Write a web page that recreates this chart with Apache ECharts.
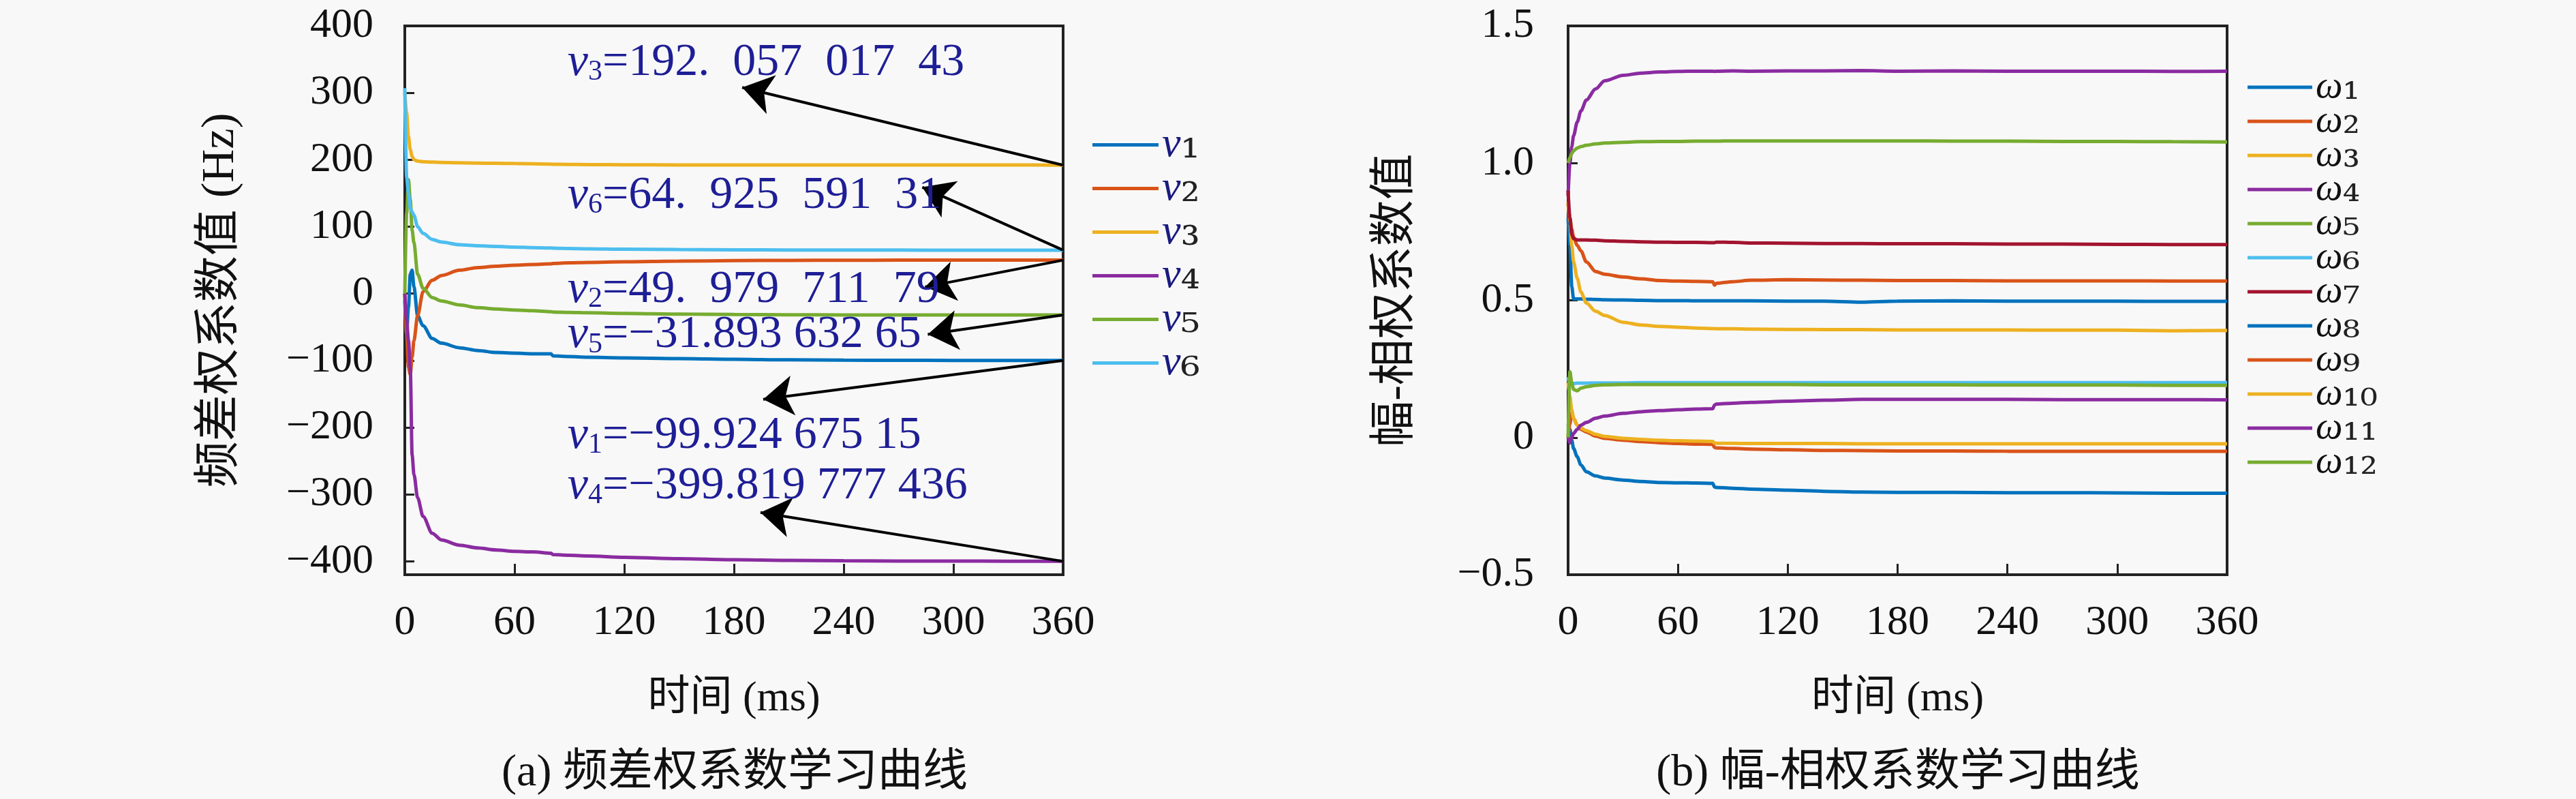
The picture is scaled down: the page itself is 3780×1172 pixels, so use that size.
<!DOCTYPE html>
<html>
<head>
<meta charset="utf-8">
<script src="https://cdn.jsdelivr.net/npm/echarts@6/dist/echarts.min.js"></script>
<style>
  html, body { margin: 0; padding: 0; background: #f8f8f8; }
  #main { width: 3780px; height: 1172px; }
</style>
</head>
<body>
<div id="main"></div>
<script>
// 左图：频差权系数 v1..v6
var timeA = [0, 1, 2, 3, 4, 5, 7, 10, 15, 20, 30, 40, 50, 60, 70, 80, 81, 90, 100, 120, 150, 180, 210, 240, 270, 300, 330, 360];
var v1 = [-10, -60, -20, 29, 35, 10, -33, -48, -67, -74, -81, -85, -88, -89, -90, -90, -93, -94, -95, -96, -97, -98, -99, -99.5, -99.7, -99.8, -99.9, -99.92];
var v2 = [0, -60, -110, -121, -95, -70, -33, 3, 20, 27, 35, 39, 41, 42.5, 43.5, 44.5, 45, 46, 46.5, 47.5, 48.5, 49.3, 49.7, 49.9, 50, 50, 50, 49.98];
var v3 = [300, 270, 235, 215, 205, 200, 198, 197, 196.5, 196, 195.5, 195, 194.7, 194.5, 194, 193.5, 193.3, 193, 192.8, 192.5, 192.3, 192.2, 192.1, 192.1, 192.1, 192.1, 192.1, 192.06];
var v4 = [0, -40, -70, -111, -241, -270, -305, -333, -358, -368, -376, -380, -383, -385, -386, -388, -390, -391, -392, -394, -396, -397.5, -398.5, -399.2, -399.5, -399.7, -399.8, -399.82];
var v5 = [0, 120, 170, 140, 95, 76, 29, 8, -6, -11, -17, -21, -23, -24.5, -25.6, -27, -27.5, -28, -28.5, -29.5, -30.5, -31.2, -31.6, -31.8, -31.9, -31.9, -31.9, -31.89];
var v6 = [307, 174, 150, 128, 122, 117, 100, 90, 81, 77, 73, 71.5, 70.5, 69.5, 68.8, 68.2, 68, 67.5, 67, 66.4, 65.8, 65.4, 65.2, 65, 65, 64.95, 64.93, 64.93];

// 右图：幅-相权系数 ω1..ω12
var timeB = [0, 1, 2, 3, 5, 7, 10, 15, 20, 30, 40, 50, 60, 70, 79, 80, 81, 90, 100, 120, 140, 160, 180, 210, 240, 270, 300, 330, 360];
var w1 = [0.80, 0.70, 0.55, 0.505, 0.505, 0.505, 0.504, 0.503, 0.502, 0.501, 0.5, 0.499, 0.499, 0.498, 0.498, 0.498, 0.498, 0.498, 0.498, 0.497, 0.497, 0.493, 0.497, 0.498, 0.497, 0.497, 0.497, 0.496, 0.496];
var w2 = [0.85, 0.80, 0.76, 0.73, 0.70, 0.68, 0.64, 0.605, 0.595, 0.585, 0.578, 0.572, 0.570, 0.569, 0.568, 0.555, 0.562, 0.568, 0.573, 0.575, 0.574, 0.573, 0.572, 0.572, 0.571, 0.571, 0.571, 0.570, 0.570];
var w3 = [0.86, 0.78, 0.70, 0.64, 0.58, 0.53, 0.49, 0.46, 0.445, 0.42, 0.41, 0.405, 0.402, 0.399, 0.397, 0.397, 0.396, 0.396, 0.395, 0.394, 0.393, 0.393, 0.392, 0.392, 0.392, 0.391, 0.391, 0.389, 0.390];
var w4 = [0.88, 1.00, 1.06, 1.10, 1.15, 1.19, 1.23, 1.27, 1.30, 1.32, 1.328, 1.332, 1.334, 1.335, 1.335, 1.334, 1.335, 1.336, 1.335, 1.336, 1.336, 1.337, 1.335, 1.336, 1.335, 1.335, 1.335, 1.334, 1.335];
var w5 = [1.00, 1.02, 1.035, 1.045, 1.055, 1.06, 1.065, 1.07, 1.073, 1.076, 1.078, 1.079, 1.079, 1.08, 1.08, 1.08, 1.08, 1.081, 1.081, 1.081, 1.081, 1.081, 1.081, 1.08, 1.08, 1.079, 1.079, 1.078, 1.077];
var w6 = [0.22, 0.19, 0.195, 0.197, 0.198, 0.198, 0.198, 0.199, 0.199, 0.199, 0.2, 0.2, 0.2, 0.2, 0.2, 0.2, 0.2, 0.2, 0.2, 0.2, 0.2, 0.2, 0.2, 0.2, 0.2, 0.2, 0.2, 0.2, 0.2];
var w7 = [0.90, 0.80, 0.74, 0.725, 0.72, 0.72, 0.72, 0.719, 0.717, 0.715, 0.713, 0.712, 0.711, 0.711, 0.71, 0.71, 0.712, 0.711, 0.709, 0.708, 0.707, 0.707, 0.706, 0.706, 0.705, 0.705, 0.704, 0.703, 0.703];
var w8 = [0.05, 0.03, -0.01, -0.04, -0.07, -0.10, -0.125, -0.14, -0.148, -0.155, -0.16, -0.164, -0.165, -0.166, -0.167, -0.18, -0.182, -0.185, -0.188, -0.192, -0.196, -0.199, -0.2, -0.2, -0.201, -0.201, -0.202, -0.203, -0.203];
var w9 = [0.0, 0.05, 0.09, 0.07, 0.045, 0.03, 0.02, 0.005, -0.003, -0.01, -0.015, -0.019, -0.022, -0.024, -0.025, -0.036, -0.038, -0.04, -0.042, -0.045, -0.047, -0.048, -0.049, -0.049, -0.05, -0.05, -0.05, -0.05, -0.05];
var w10 = [0.2, 0.15, 0.1, 0.07, 0.045, 0.035, 0.025, 0.012, 0.004, -0.003, -0.007, -0.01, -0.012, -0.013, -0.014, -0.02, -0.021, -0.021, -0.022, -0.022, -0.022, -0.023, -0.023, -0.023, -0.023, -0.023, -0.023, -0.023, -0.023];
var w11 = [0.0, -0.02, 0.0, 0.015, 0.03, 0.045, 0.055, 0.07, 0.078, 0.088, 0.094, 0.098, 0.101, 0.104, 0.105, 0.118, 0.122, 0.125, 0.128, 0.132, 0.136, 0.139, 0.139, 0.139, 0.139, 0.138, 0.138, 0.138, 0.137];
var w12 = [0.0, 0.24, 0.2, 0.175, 0.17, 0.18, 0.185, 0.19, 0.192, 0.193, 0.193, 0.193, 0.193, 0.193, 0.193, 0.193, 0.193, 0.193, 0.193, 0.193, 0.192, 0.192, 0.192, 0.192, 0.191, 0.191, 0.191, 0.19, 0.19];

var yTicksA = [-400, -300, -200, -100, 0, 100, 200, 300, 400];

// 标注：收敛值文字 + 箭头（起点在曲线末端，终点指向文字）
var noteText = ['192.\u2002057\u2002017\u200243', '64.\u2002925\u2002591\u200231', '49.\u2002979\u2002711\u200279',
                '−31.893 632 65', '−99.924 675 15', '−399.819 777 436'];
var noteIdx = [3, 6, 2, 5, 1, 4];
var noteAt = [[89, 345], [89, 146], [89, 6], [89, -62], [89, -212], [89, -288]];
var arrowFrom = [[360, 192], [360, 65], [360, 50], [360, -32], [360, -100], [360, -400]];
var arrowTo = [[184.5, 308], [283, 159], [284.5, 10], [286, -61], [196, -158], [194.5, -327]];

var colA = ['#0072BD', '#D95319', '#EDB120', '#8A2BA0', '#77AC30', '#4DBEEE'];
var colB = ['#0072BD', '#D95319', '#EDB120', '#8A2BA0', '#77AC30', '#4DBEEE', '#A2142F',
            '#0072BD', '#D95319', '#EDB120', '#8A2BA0', '#77AC30'];

var SERIF = '"Liberation Serif", "Noto Sans CJK SC", serif';
var NOTE = '#1e1e96';
var SUB = '₀₁₂₃₄₅₆₇₈₉';

function zip(t, v) {
  return t.map(function (x, i) { return [x, v[i]]; });
}
function minus(s) { return String(s).replace('-', '−'); }
function toSub(d) {
  return String(d).split('').map(function (c) { return SUB.charAt(+c); }).join('');
}

var chart = echarts.init(document.getElementById('main'));

var seriesA = [v1, v2, v3, v4, v5, v6];
var seriesB = [w1, w2, w3, w4, w5, w6, w7, w8, w9, w10, w11, w12];

var series = [];
seriesA.forEach(function (vals, i) {
  var k = noteIdx.indexOf(i + 1);
  var s = {
    name: 'v' + (i + 1),
    type: 'line',
    xAxisIndex: 0, yAxisIndex: 0,
    data: zip(timeA, vals),
    showSymbol: false, symbol: 'none',
    smooth: 0.3, smoothMonotone: 'x',
    color: colA[i],
    lineStyle: { width: 5 }
  };
  if (k >= 0) {
    s.markLine = {
      silent: true, animation: false,
      symbol: ['none', 'arrow'], symbolSize: 44,
      lineStyle: { color: '#000', width: 4, type: 'solid' },
      label: { show: false },
      data: [[{ coord: arrowFrom[k] }, { coord: arrowTo[k] }]]
    };
    s.markPoint = {
      silent: true, animation: false,
      symbol: 'circle', symbolSize: 0,
      data: [{ coord: noteAt[k] }],
      label: {
        show: true, position: 'right', distance: 0,
        formatter: '{i|v}{s|' + (i + 1) + '}{n|=' + noteText[k] + '}',
        rich: {
          i: { fontFamily: SERIF, fontStyle: 'italic', fontSize: 68, color: NOTE, lineHeight: 70 },
          s: { fontFamily: SERIF, fontSize: 42, color: NOTE, lineHeight: 12, verticalAlign: 'bottom' },
          n: { fontFamily: SERIF, fontSize: 68, color: NOTE, lineHeight: 70 }
        }
      }
    };
  }
  series.push(s);
});
seriesB.forEach(function (vals, i) {
  series.push({
    name: 'ω' + (i + 1),
    type: 'line',
    xAxisIndex: 1, yAxisIndex: 1,
    data: zip(timeB, vals),
    showSymbol: false, symbol: 'none',
    smooth: 0.3, smoothMonotone: 'x',
    color: colB[i],
    lineStyle: { width: 5 }
  });
});

// 图例：符号斜体 + 下标数字
function legendFmt(name) {
  return '{i|' + name.charAt(0) + '}{s|' + toSub(name.slice(1)) + '}';
}
function legendText(mainColor, size) {
  return {
    rich: {
      i: { fontFamily: SERIF, fontStyle: 'italic', fontSize: size, color: mainColor },
      s: { fontFamily: '"DejaVu Serif", serif', fontSize: Math.round(size * 1.15), color: '#222' }
    }
  };
}

var axisText = { fontFamily: SERIF, fontSize: 62, color: '#111' };
var nameText = { fontFamily: SERIF, fontSize: 68, color: '#111' };

var option = {
  backgroundColor: '#f8f8f8',
  animation: false,
  grid: [
    { left: 594, top: 38, width: 966, height: 805, show: true, borderColor: '#222', borderWidth: 4, backgroundColor: 'transparent' },
    { left: 2301, top: 38, width: 967, height: 805, show: true, borderColor: '#222', borderWidth: 4, backgroundColor: 'transparent' }
  ],
  xAxis: [0, 1].map(function (g) {
    return {
      type: 'value', gridIndex: g, min: 0, max: 360, interval: 60,
      name: '时间 (ms)', nameLocation: 'middle', nameGap: 152,
      nameTextStyle: { fontFamily: SERIF, fontSize: 62, color: '#111' },
      axisLine: { show: true, onZero: false, lineStyle: { color: '#222', width: 4 } },
      axisTick: { show: true, inside: true, length: 16, lineStyle: { color: '#222', width: 3 } },
      axisLabel: Object.assign({ margin: 40 }, axisText),
      splitLine: { show: false }
    };
  }),
  yAxis: [
    {
      type: 'value', gridIndex: 0, min: -420, max: 400,
      name: '频差权系数值 (Hz)', nameLocation: 'middle', nameGap: 236,
      nameTextStyle: nameText,
      axisLine: { show: true, onZero: false, lineStyle: { color: '#222', width: 4 } },
      axisTick: { show: true, inside: true, length: 14, customValues: yTicksA, lineStyle: { color: '#222', width: 3 } },
      axisLabel: Object.assign({ margin: 46, customValues: yTicksA, formatter: function (v) { return minus(v); } }, axisText),
      splitLine: { show: false }
    },
    {
      type: 'value', gridIndex: 1, min: -0.5, max: 1.5, interval: 0.5,
      name: '幅-相权系数值', nameLocation: 'middle', nameGap: 218,
      nameTextStyle: nameText,
      axisLine: { show: true, onZero: false, lineStyle: { color: '#222', width: 4 } },
      axisTick: { show: true, inside: true, length: 14, lineStyle: { color: '#222', width: 3 } },
      axisLabel: Object.assign({ margin: 50, formatter: function (v) { return v === 0 ? '0' : minus(v.toFixed(1)); } }, axisText),
      splitLine: { show: false }
    }
  ],
  legend: [
    {
      data: ['v1', 'v2', 'v3', 'v4', 'v5', 'v6'],
      orient: 'vertical', left: 1603, top: 177, padding: 0,
      icon: 'rect', itemWidth: 97, itemHeight: 5, itemGap: -7,
      formatter: legendFmt,
      textStyle: legendText('#1a1a80', 62)
    },
    {
      data: ['ω1', 'ω2', 'ω3', 'ω4', 'ω5', 'ω6', 'ω7', 'ω8', 'ω9', 'ω10', 'ω11', 'ω12'],
      orient: 'vertical', left: 3298, top: 96, padding: 0,
      icon: 'rect', itemWidth: 95, itemHeight: 5, itemGap: -14,
      formatter: legendFmt,
      textStyle: legendText('#111', 56)
    }
  ],
  graphic: [
    { type: 'text', x: 1078, y: 1135, style: { text: '(a) 频差权系数学习曲线', font: '66px ' + SERIF, fill: '#111', align: 'center', verticalAlign: 'middle' } },
    { type: 'text', x: 2785, y: 1135, style: { text: '(b) 幅-相权系数学习曲线', font: '66px ' + SERIF, fill: '#111', align: 'center', verticalAlign: 'middle' } }
  ],
  series: series
};

chart.setOption(option);
</script>
</body>
</html>
